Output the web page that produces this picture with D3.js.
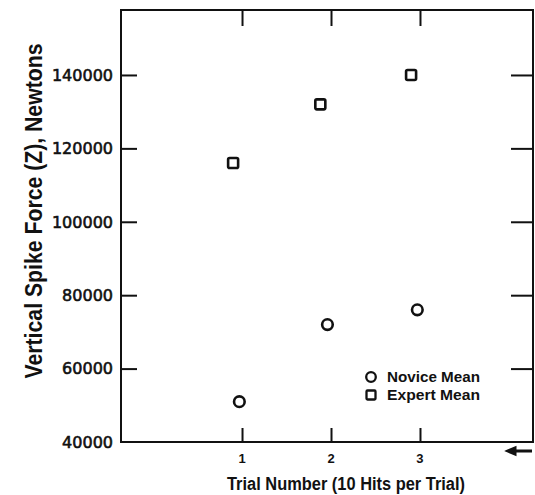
<!DOCTYPE html>
<html>
<head>
<meta charset="utf-8">
<script src="https://cdn.jsdelivr.net/npm/d3@7"></script>
<style>
  html, body { margin: 0; padding: 0; background: #fff; }
  svg { display: block; }
</style>
</head>
<body>
<script>
// ---- data ----
const trials = [1, 2, 3];
const xTickLabels = ["1", "2", "3"];
const yTicks = [40000, 60000, 80000, 100000, 120000, 140000];
const yTickLabels = ["40000", "60000", "80000", "100000", "120000", "140000"];
const noviceX = [0.97, 1.96, 2.97];
const noviceMean = [51000, 72000, 76000];
const expertX = [0.9, 1.88, 2.9];
const expertMean = [116000, 132000, 140000];
const legendLabels = ["Novice Mean", "Expert Mean"];
const xTitle = "Trial Number  (10 Hits per Trial)";
const yTitle = "Vertical Spike Force  (Z), Newtons";

(function () {
const W = 535, H = 495;
const svg = d3.select("body").append("svg").attr("width", W).attr("height", H);

const pL = 121, pR = 533, pT = 10, pB = 442;
const x = d3.scaleLinear().domain([-0.36, 4.27]).range([pL, pR]);
const y = d3.scaleLinear().domain([40000, 157700]).range([pB, pT]);

const ink = "#111";

// frame
svg.append("rect").attr("x", pL).attr("y", pT)
  .attr("width", pR - pL).attr("height", pB - pT)
  .attr("fill", "none").attr("stroke", ink).attr("stroke-width", 2);

// axes (ticks inward)
const innerTicks = yTicks.filter(v => v > 40000);
svg.append("g").attr("transform", `translate(${pL},0)`)
  .call(d3.axisRight(y).tickValues(innerTicks).tickSize(16).tickFormat(""))
  .call(g => g.select(".domain").remove())
  .call(g => g.selectAll("line").attr("stroke", ink).attr("stroke-width", 2));
svg.append("g").attr("transform", `translate(${pR},0)`)
  .call(d3.axisLeft(y).tickValues(innerTicks).tickSize(22).tickFormat(""))
  .call(g => g.select(".domain").remove())
  .call(g => g.selectAll("line").attr("stroke", ink).attr("stroke-width", 2));
svg.append("g").attr("transform", `translate(0,${pB})`)
  .call(d3.axisTop(x).tickValues(trials).tickSize(14).tickFormat(""))
  .call(g => g.select(".domain").remove())
  .call(g => g.selectAll("line").attr("stroke", ink).attr("stroke-width", 2));
svg.append("g").attr("transform", `translate(0,${pT})`)
  .call(d3.axisBottom(x).tickValues(trials).tickSize(16).tickFormat(""))
  .call(g => g.select(".domain").remove())
  .call(g => g.selectAll("line").attr("stroke", ink).attr("stroke-width", 2));

// y tick labels
svg.append("g").selectAll("text").data(yTicks).join("text")
  .attr("x", pL - 8).attr("y", d => y(d))
  .attr("dy", "0.36em").attr("text-anchor", "end")
  .attr("font-family", "DejaVu Sans")
  .attr("font-size", 16).attr("fill", ink)
  .attr("stroke", ink).attr("stroke-width", 0.6)
  .text((d, i) => yTickLabels[i]);

// x tick labels
svg.append("g").selectAll("text").data(trials).join("text")
  .attr("x", d => x(d)).attr("y", 463)
  .attr("text-anchor", "middle")
  .attr("font-family", "Liberation Sans").attr("font-weight", "bold")
  .attr("font-size", 13).attr("fill", ink)
  .text((d, i) => xTickLabels[i]);

// odd arrow mark at bottom right
svg.append("path")
  .attr("d", `M${pR - 1},451 L${pR - 19},451 M${pR - 25},451 l7,-3 l0,6 z`)
  .attr("stroke", ink).attr("stroke-width", 3).attr("fill", ink);

// titles
svg.append("text")
  .attr("x", 346).attr("y", 490).attr("text-anchor", "middle")
  .attr("font-family", "Liberation Sans").attr("font-weight", "bold")
  .attr("font-size", 18).attr("fill", ink)
  .attr("textLength", 238).attr("lengthAdjust", "spacingAndGlyphs")
  .text(xTitle);
svg.append("text")
  .attr("transform", `translate(42,211) rotate(-90)`)
  .attr("text-anchor", "middle")
  .attr("font-family", "Liberation Sans").attr("font-weight", "bold")
  .attr("font-size", 23).attr("fill", ink)
  .attr("textLength", 335).attr("lengthAdjust", "spacingAndGlyphs")
  .text(yTitle);

// data markers
svg.append("g").selectAll("circle").data(noviceMean).join("circle")
  .attr("cx", (d, i) => x(noviceX[i])).attr("cy", d => y(d))
  .attr("r", 5.3).attr("fill", "none").attr("stroke", ink).attr("stroke-width", 2.6);
svg.append("g").selectAll("rect").data(expertMean).join("rect")
  .attr("x", (d, i) => x(expertX[i]) - 5).attr("y", d => y(d) - 5)
  .attr("width", 10).attr("height", 10).attr("rx", 1.5)
  .attr("fill", "none").attr("stroke", ink).attr("stroke-width", 2.6);

// legend
const lg = svg.append("g");
lg.append("circle").attr("cx", 371).attr("cy", 377).attr("r", 4.8)
  .attr("fill", "none").attr("stroke", ink).attr("stroke-width", 2.3);
lg.append("rect").attr("x", 366.5).attr("y", 390.5).attr("width", 9).attr("height", 9).attr("rx", 1)
  .attr("fill", "none").attr("stroke", ink).attr("stroke-width", 2.3);
lg.selectAll("text").data(legendLabels).join("text")
  .attr("x", 387).attr("y", (d, i) => 377 + i * 18).attr("dy", "0.36em")
  .attr("font-family", "Liberation Sans").attr("font-weight", "bold")
  .attr("font-size", 14).attr("fill", ink)
  .attr("textLength", 93).attr("lengthAdjust", "spacingAndGlyphs")
  .text(d => d);
})();
</script>
</body>
</html>
